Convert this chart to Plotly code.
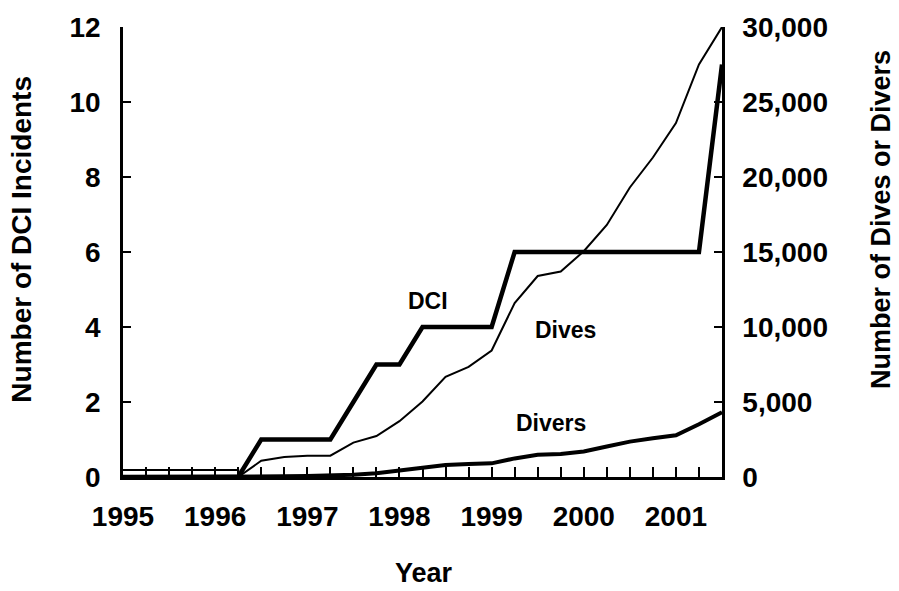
import plotly.graph_objects as go

# ---- data ----
quarters = [1995.0, 1995.25, 1995.5, 1995.75, 1996.0, 1996.25, 1996.5, 1996.75,
            1997.0, 1997.25, 1997.5, 1997.75, 1998.0, 1998.25, 1998.5, 1998.75,
            1999.0, 1999.25, 1999.5, 1999.75, 2000.0, 2000.25, 2000.5, 2000.75,
            2001.0, 2001.25, 2001.5]

dci_incidents = [0, 0, 0, 0, 0, 0, 1, 1,
                 1, 1, 2, 3, 3, 4, 4, 4,
                 4, 6, 6, 6, 6, 6, 6, 6,
                 6, 6, 11]

dives_x = [1995.0, 1995.25, 1995.5, 1995.75, 1996.0, 1996.25, 1996.25, 1996.5, 1996.75,
           1997.0, 1997.25, 1997.5, 1997.75, 1998.0, 1998.25, 1998.5, 1998.75,
           1999.0, 1999.25, 1999.5, 1999.75, 2000.0, 2000.25, 2000.5, 2000.75,
           2001.0, 2001.25, 2001.5]
dives = [460, 460, 460, 460, 460, 460, 0, 1080, 1330,
         1410, 1420, 2290, 2730, 3720, 5030, 6680, 7340,
         8430, 11600, 13400, 13700, 15050, 16800, 19300, 21300,
         23600, 27500, 30000]

divers = [0, 0, 0, 0, 0, 0, 30, 50,
          70, 100, 150, 250, 430, 580, 800, 870,
          910, 1240, 1480, 1530, 1700, 2030, 2360, 2580,
          2780, 3520, 4310]

year_ticks = [1995, 1996, 1997, 1998, 1999, 2000, 2001]
year_labels = ["1995", "1996", "1997", "1998", "1999", "2000", "2001"]
left_ticks = [0, 2, 4, 6, 8, 10, 12]
right_ticks = [0, 5000, 10000, 15000, 20000, 25000, 30000]

# ---- geometry ----
W, H = 899, 591
L, R, T, B = 123, 177, 20, 114
PW, PH = W - L - R, H - T - B

def px_x(px):
    return (px - L) / PW

def px_y(py):
    return (H - B - py) / PH

FONT = "Liberation Sans, Arial, Helvetica, sans-serif"

fig = go.Figure()
fig.add_trace(go.Scatter(x=dives_x, y=dives, mode="lines", yaxis="y2",
                         line=dict(color="black", width=2), name="Dives"))
fig.add_trace(go.Scatter(x=quarters, y=divers, mode="lines", yaxis="y2",
                         line=dict(color="black", width=4), name="Divers"))
fig.add_trace(go.Scatter(x=quarters, y=dci_incidents, mode="lines",
                         line=dict(color="black", width=4.5), name="DCI"))

tickfont = dict(family=FONT, size=28, color="black", weight="bold")

fig.update_layout(
    width=W, height=H,
    margin=dict(l=L, r=R, t=T, b=B, pad=0),
    paper_bgcolor="white", plot_bgcolor="white",
    showlegend=False,
    xaxis=dict(range=[1995, 2001.5], tickvals=year_ticks, ticktext=year_labels,
               showline=True, linecolor="black", linewidth=3,
               ticks="inside", ticklen=10, tickwidth=2, tickcolor="black",
               minor=dict(dtick=0.25, tick0=1995, ticks="inside", ticklen=10,
                          tickwidth=2, tickcolor="black", showgrid=False),
               showgrid=False, zeroline=False, tickfont=tickfont,
               ticklabelstandoff=12, ticklabeloverflow="allow"),
    yaxis=dict(range=[0, 12], tickvals=left_ticks,
               showline=True, linecolor="black", linewidth=2.5,
               ticks="inside", ticklen=8, tickwidth=2, tickcolor="black",
               showgrid=False, zeroline=False, tickfont=tickfont,
               ticklabelstandoff=14, ticklabeloverflow="allow"),
    yaxis2=dict(range=[0, 30000], tickvals=right_ticks, tickformat=",d",
                overlaying="y", side="right",
                showline=True, linecolor="black", linewidth=2.5,
                ticks="inside", ticklen=8, tickwidth=2, tickcolor="black",
                showgrid=False, zeroline=False, tickfont=tickfont,
                ticklabelstandoff=12, ticklabeloverflow="allow"),
    annotations=[
        dict(text="DCI", x=1998.31, y=4.7, xref="x", yref="y", showarrow=False,
             font=dict(family=FONT, size=23, color="black", weight="bold")),
        dict(text="Dives", x=1999.80, y=3.91, xref="x", yref="y", showarrow=False,
             font=dict(family=FONT, size=23, color="black", weight="bold")),
        dict(text="Divers", x=1999.64, y=1.43, xref="x", yref="y", showarrow=False,
             font=dict(family=FONT, size=23, color="black", weight="bold")),
        dict(text="Year", x=px_x(424), y=px_y(574), xref="paper", yref="paper",
             showarrow=False, xanchor="center", yanchor="middle",
             font=dict(family=FONT, size=27, color="black", weight="bold")),
        dict(text="Number of DCI Incidents", x=px_x(22), y=px_y(236),
             xref="paper", yref="paper", showarrow=False, textangle=-90,
             xanchor="center", yanchor="middle",
             font=dict(family=FONT, size=28, color="black", weight="bold")),
        dict(text="Number of Dives or Divers", x=px_x(881), y=px_y(216),
             xref="paper", yref="paper", showarrow=False, textangle=-90,
             xanchor="center", yanchor="middle",
             font=dict(family=FONT, size=27, color="black", weight="bold")),
    ],
)

# remove the default 8px page margin so the figure sits at the window origin
fig.write_html("out.html",
               config={"displayModeBar": False},
               post_script="document.body.style.margin='0px';")
